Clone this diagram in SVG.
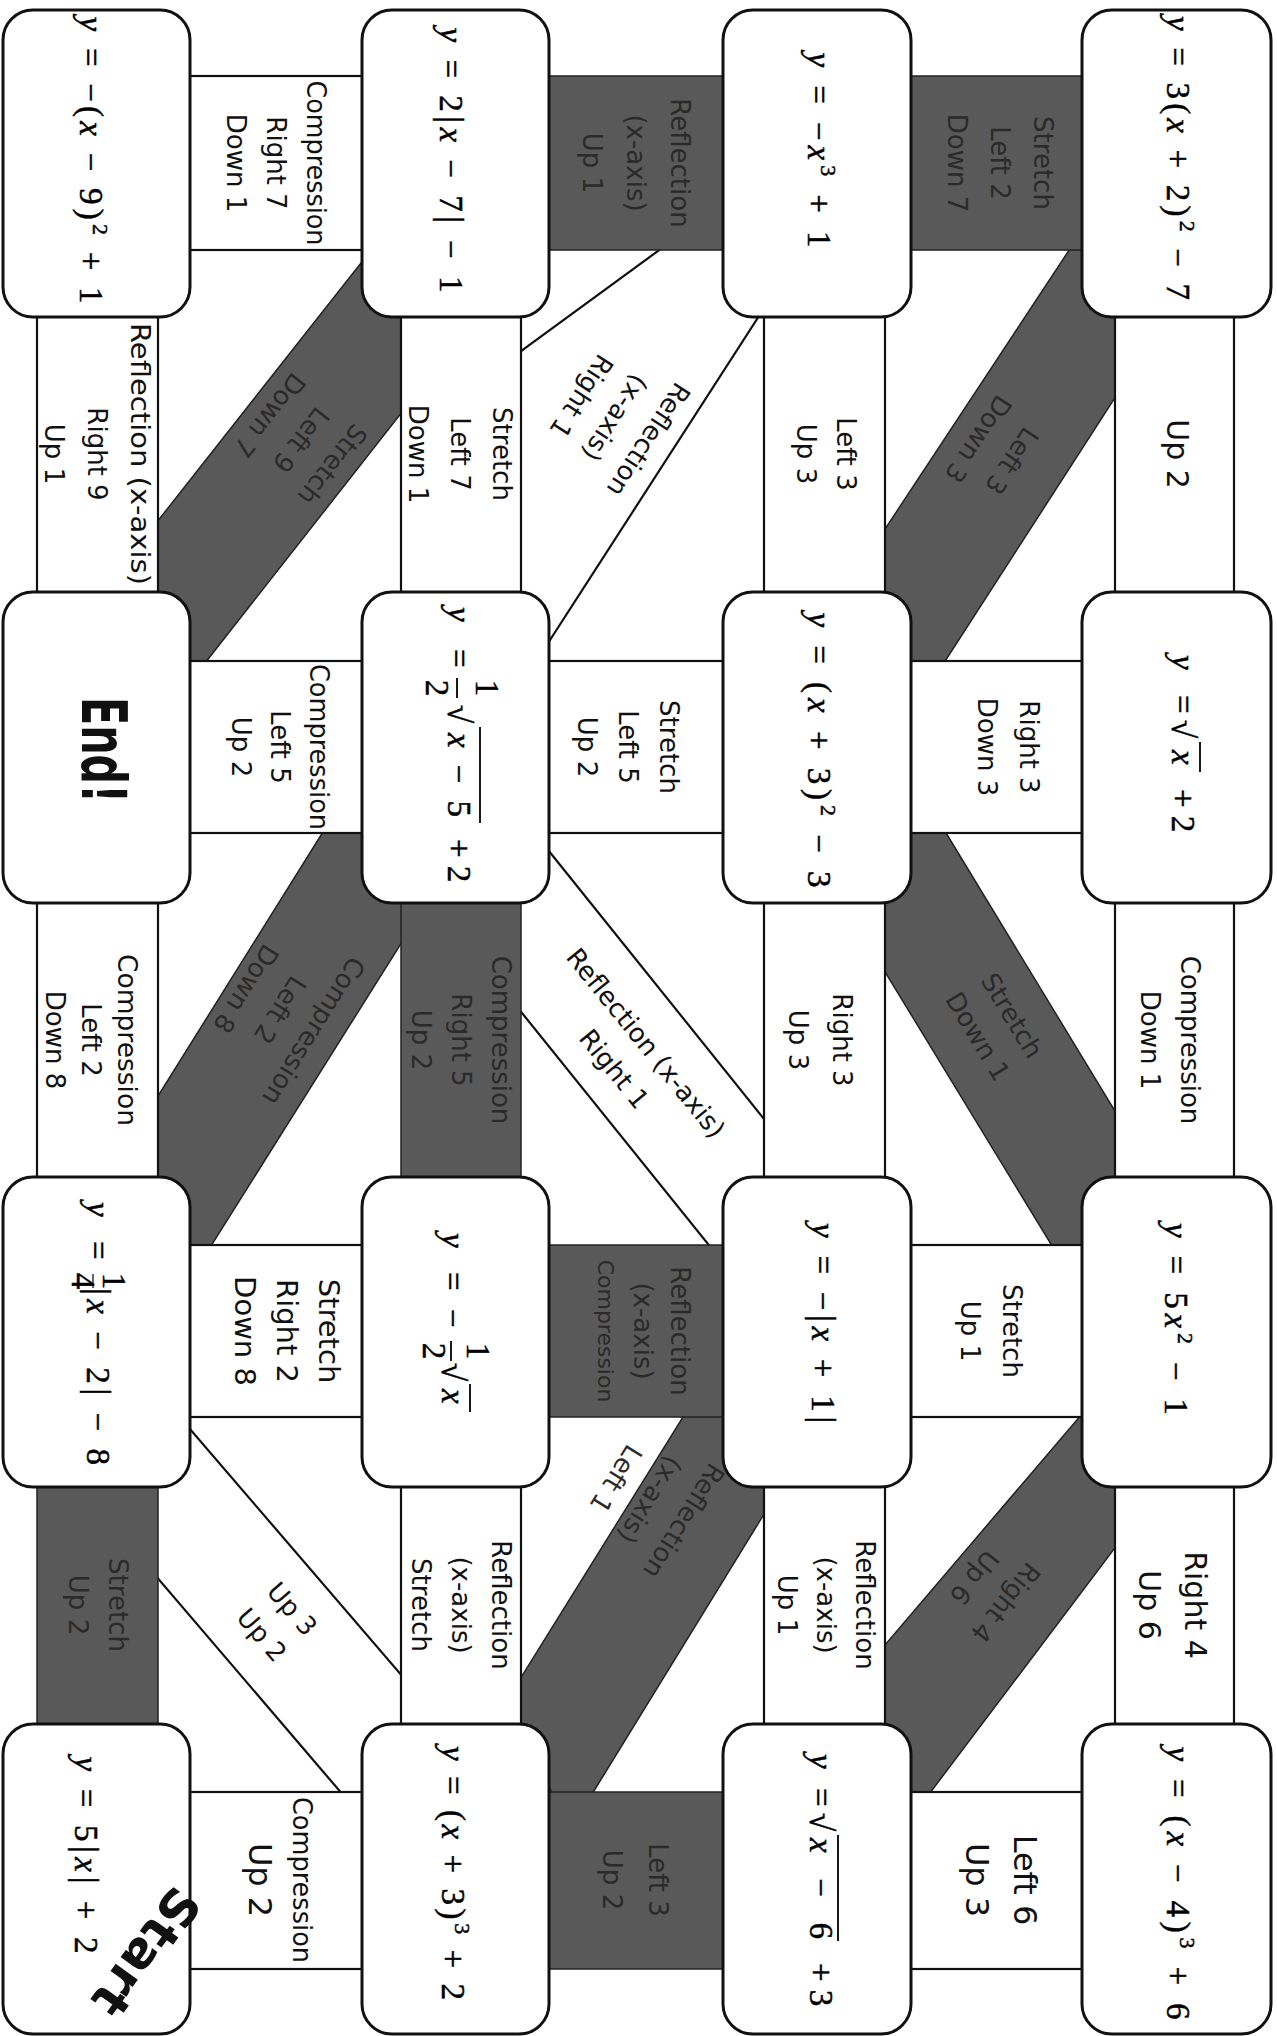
<svg xmlns="http://www.w3.org/2000/svg" width="1277" height="2036" viewBox="0 0 1277 2036">
<defs>
<style>
.box{fill:#fff;stroke:#111;stroke-width:3}
.lt{fill:#fff;stroke:#111;stroke-width:2.2}
.dk{fill:#595959;stroke:#222;stroke-width:1.5}
.lb{font-family:"DejaVu Sans",sans-serif;font-size:26px;fill:#111;text-anchor:middle}
.ld{font-family:"DejaVu Sans",sans-serif;font-size:26px;fill:#2a2a2a;text-anchor:middle}
.m{font-family:"Liberation Serif",serif;font-size:33px;fill:#000;stroke:#000;stroke-width:0.5}
.i{font-style:italic}
.ln{stroke:#000;stroke-width:1.8}
.big{font-family:"DejaVu Sans",sans-serif;font-weight:bold;fill:#111;text-anchor:middle}
</style>
</defs>
<rect width="1277" height="2036" fill="#fff"/>
<g id="connectors">
  <!-- diagonal bands -->
  <polygon class="dk" points="387,230 64,640 176,700 490,300"/>
  <polygon class="lt" points="673,240 480,381 480,700 530,671 790,268 740,200"/>
  <polygon class="dk" points="1089,220 825,620 880,700 920,700 1178,300"/>
  <polygon class="dk" points="343,800 93,1200 177,1300 441,880"/>
  <polygon class="lt" points="524,820 813,1180 737,1280 431,900"/>
  <polygon class="dk" points="926,800 1169,1200 1085,1300 829,880"/>
  <polygon class="lt" points="165,1400 440,1720 373,1830 108,1520"/>
  <polygon class="dk" points="706,1380 785,1480 570,1830 507,1700"/>
  <polygon class="dk" points="1111,1380 1151,1500 902,1830 838,1700"/>
  <!-- horizontal bands -->
  <rect class="lt" x="185" y="76" width="182" height="174"/>
  <rect class="dk" x="544" y="76" width="184" height="174"/>
  <rect class="dk" x="906" y="76" width="181" height="174"/>
  <rect class="lt" x="185" y="661" width="182" height="172"/>
  <rect class="lt" x="544" y="661" width="184" height="172"/>
  <rect class="lt" x="906" y="661" width="181" height="172"/>
  <rect class="lt" x="185" y="1245" width="182" height="172"/>
  <rect class="dk" x="544" y="1245" width="184" height="172"/>
  <rect class="lt" x="906" y="1245" width="181" height="172"/>
  <rect class="lt" x="185" y="1792" width="182" height="177"/>
  <rect class="dk" x="544" y="1792" width="184" height="177"/>
  <rect class="lt" x="906" y="1792" width="181" height="177"/>
  <!-- vertical bands -->
  <rect class="lt" x="37" y="312" width="121" height="285"/>
  <rect class="lt" x="401" y="312" width="120" height="285"/>
  <rect class="lt" x="764" y="312" width="121" height="285"/>
  <rect class="lt" x="1115" y="312" width="119" height="285"/>
  <rect class="lt" x="37" y="898" width="121" height="284"/>
  <rect class="dk" x="401" y="898" width="120" height="284"/>
  <rect class="lt" x="764" y="898" width="121" height="284"/>
  <rect class="lt" x="1115" y="898" width="119" height="284"/>
  <rect class="dk" x="37" y="1482" width="121" height="247"/>
  <rect class="lt" x="401" y="1482" width="120" height="247"/>
  <rect class="lt" x="764" y="1482" width="121" height="247"/>
  <rect class="lt" x="1115" y="1482" width="119" height="247"/>
  <!-- labels: horizontal bands -->
  <g transform="translate(276,163) rotate(90)"><text class="lb" y="-40" dy=".35em" textLength="165" lengthAdjust="spacingAndGlyphs">Compression</text><text class="lb" y="0" dy=".35em">Right 7</text><text class="lb" y="40" dy=".35em">Down 1</text></g>
  <g transform="translate(636,163) rotate(90)"><text class="ld" y="-44" dy=".35em">Reflection</text><text class="ld" y="0" dy=".35em">(x-axis)</text><text class="ld" y="44" dy=".35em">Up 1</text></g>
  <g transform="translate(1000,163) rotate(90)"><text class="ld" y="-43" dy=".35em">Stretch</text><text class="ld" y="0" dy=".35em">Left 2</text><text class="ld" y="43" dy=".35em">Down 7</text></g>
  <g transform="translate(280,747) rotate(90)"><text class="lb" y="-39" dy=".35em" textLength="166" lengthAdjust="spacingAndGlyphs">Compression</text><text class="lb" y="0" dy=".35em">Left 5</text><text class="lb" y="39" dy=".35em">Up 2</text></g>
  <g transform="translate(628,747) rotate(90)"><text class="lb" y="-41" dy=".35em">Stretch</text><text class="lb" y="0" dy=".35em">Left 5</text><text class="lb" y="41" dy=".35em">Up 2</text></g>
  <g transform="translate(1008,747) rotate(90)"><text class="lb" y="-21" dy=".35em">Right 3</text><text class="lb" y="21" dy=".35em">Down 3</text></g>
  <g transform="translate(287,1331) rotate(90)"><text class="lb" style="font-size:29px" y="-42" dy=".35em">Stretch</text><text class="lb" style="font-size:29px" y="0" dy=".35em">Right 2</text><text class="lb" style="font-size:29px" y="42" dy=".35em">Down 8</text></g>
  <g transform="translate(643,1331) rotate(90)"><text class="ld" y="-37" dy=".35em">Reflection</text><text class="ld" y="0" dy=".35em">(x-axis)</text><text class="ld" style="font-size:22px" y="37" dy=".35em">Compression</text></g>
  <g transform="translate(991,1331) rotate(90)"><text class="lb" y="-21" dy=".35em">Stretch</text><text class="lb" y="21" dy=".35em">Up 1</text></g>
  <g transform="translate(281,1880) rotate(90)"><text class="lb" y="-21" dy=".35em" textLength="166" lengthAdjust="spacingAndGlyphs">Compression</text><text class="lb" style="font-size:32px" y="21" dy=".35em">Up 2</text></g>
  <g transform="translate(635,1880) rotate(90)"><text class="ld" y="-23" dy=".35em">Left 3</text><text class="ld" y="23" dy=".35em">Up 2</text></g>
  <g transform="translate(1001,1880) rotate(90)"><text class="lb" style="font-size:32px" y="-24" dy=".35em">Left 6</text><text class="lb" style="font-size:32px" y="24" dy=".35em">Up 3</text></g>
  <!-- labels: vertical bands -->
  <g transform="translate(97,454) rotate(90)"><text class="lb" y="-43" dy=".35em" textLength="262" lengthAdjust="spacingAndGlyphs">Reflection (x-axis)</text><text class="lb" y="0" dy=".35em">Right 9</text><text class="lb" y="43" dy=".35em">Up 1</text></g>
  <g transform="translate(460,454) rotate(90)"><text class="lb" y="-42" dy=".35em">Stretch</text><text class="lb" y="0" dy=".35em">Left 7</text><text class="lb" y="42" dy=".35em">Down 1</text></g>
  <g transform="translate(826,454) rotate(90)"><text class="lb" y="-20" dy=".35em">Left 3</text><text class="lb" y="20" dy=".35em">Up 3</text></g>
  <g transform="translate(1177,454) rotate(90)"><text class="lb" style="font-size:30px" y="0" dy=".35em">Up 2</text></g>
  <g transform="translate(91,1040) rotate(90)"><text class="lb" y="-36" dy=".35em" textLength="172" lengthAdjust="spacingAndGlyphs">Compression</text><text class="lb" y="0" dy=".35em">Left 2</text><text class="lb" y="36" dy=".35em">Down 8</text></g>
  <g transform="translate(461,1040) rotate(90)"><text class="ld" y="-40" dy=".35em">Compression</text><text class="ld" y="0" dy=".35em">Right 5</text><text class="ld" y="40" dy=".35em">Up 2</text></g>
  <g transform="translate(820,1040) rotate(90)"><text class="lb" y="-22" dy=".35em">Right 3</text><text class="lb" y="22" dy=".35em">Up 3</text></g>
  <g transform="translate(1170,1040) rotate(90)"><text class="lb" y="-20" dy=".35em">Compression</text><text class="lb" y="20" dy=".35em">Down 1</text></g>
  <g transform="translate(98,1605) rotate(90)"><text class="ld" y="-20" dy=".35em">Stretch</text><text class="ld" y="20" dy=".35em">Up 2</text></g>
  <g transform="translate(461,1605) rotate(90)"><text class="lb" y="-40" dy=".35em">Reflection</text><text class="lb" y="0" dy=".35em">(x-axis)</text><text class="lb" y="40" dy=".35em">Stretch</text></g>
  <g transform="translate(826,1605) rotate(90)"><text class="lb" y="-39" dy=".35em">Reflection</text><text class="lb" y="0" dy=".35em">(x-axis)</text><text class="lb" y="39" dy=".35em">Up 1</text></g>
  <g transform="translate(1172,1605) rotate(90)"><text class="lb" style="font-size:30px" y="-23" dy=".35em">Right 4</text><text class="lb" style="font-size:30px" y="23" dy=".35em">Up 6</text></g>
  <!-- labels: diagonal bands -->
  <g transform="translate(301,440) rotate(128)"><text class="ld" y="-40" dy=".35em">Stretch</text><text class="ld" y="0" dy=".35em">Left 9</text><text class="ld" y="40" dy=".35em">Down 7</text></g>
  <g transform="translate(615,418) rotate(123)"><text class="lb" y="-40" dy=".35em">Reflection</text><text class="lb" y="0" dy=".35em">(x-axis)</text><text class="lb" y="40" dy=".35em">Right 1</text></g>
  <g transform="translate(995,450) rotate(123.4)"><text class="ld" y="-20" dy=".35em">Left 3</text><text class="ld" y="20" dy=".35em">Down 3</text></g>
  <g transform="translate(280,1010) rotate(122)"><text class="ld" y="-40" dy=".35em">Compression</text><text class="ld" y="0" dy=".35em">Left 2</text><text class="ld" y="40" dy=".35em">Down 8</text></g>
  <g transform="translate(630,1056) rotate(51)"><text class="lb" y="-20.5" dy=".35em">Reflection (x-axis)</text><text class="lb" y="20.5" dy=".35em">Right 1</text></g>
  <g transform="translate(995,1026) rotate(58.8)"><text class="ld" y="-20" dy=".35em">Stretch</text><text class="ld" y="20" dy=".35em">Down 1</text></g>
  <g transform="translate(277,1622) rotate(49.3)"><text class="lb" y="-20" dy=".35em">Up 3</text><text class="lb" y="20" dy=".35em">Up 2</text></g>
  <g transform="translate(650,1500) rotate(121.8)"><text class="ld" y="-40" dy=".35em">Reflection</text><text class="ld" y="0" dy=".35em">(x-axis)</text><text class="ld" y="40" dy=".35em">Left 1</text></g>
  <g transform="translate(990,1590) rotate(128.7)"><text class="ld" y="-20" dy=".35em">Right 4</text><text class="ld" y="20" dy=".35em">Up 6</text></g>
</g>
<!-- nodes -->
<g id="r1c1"><rect class="box" x="3" y="10" width="187" height="307" rx="30"/>
  <g transform="translate(80,160) rotate(90)"><text class="m" text-anchor="middle" textLength="287" lengthAdjust="spacing"><tspan class="i">y</tspan> = −(<tspan class="i">x</tspan> − 9)<tspan dy="-13" font-size="22">2</tspan><tspan dy="13"> + 1</tspan></text></g></g>
<g id="r1c2"><rect class="box" x="362" y="10" width="187" height="307" rx="30"/>
  <g transform="translate(440,160) rotate(90)"><text class="m" text-anchor="middle" textLength="265" lengthAdjust="spacing"><tspan class="i">y</tspan> = 2|<tspan class="i">x</tspan> − 7| − 1</text></g></g>
<g id="r1c3"><rect class="box" x="723" y="10" width="188" height="307" rx="30"/>
  <g transform="translate(808,150) rotate(90)"><text class="m" text-anchor="middle" textLength="195" lengthAdjust="spacing"><tspan class="i">y</tspan> = −<tspan class="i">x</tspan><tspan dy="-13" font-size="22">3</tspan><tspan dy="13"> + 1</tspan></text></g></g>
<g id="r1c4"><rect class="box" x="1082" y="10" width="189" height="307" rx="30"/>
  <g transform="translate(1167,158) rotate(90)"><text class="m" text-anchor="middle" textLength="284" lengthAdjust="spacing"><tspan class="i">y</tspan> = 3(<tspan class="i">x</tspan> + 2)<tspan dy="-13" font-size="22">2</tspan><tspan dy="13"> − 7</tspan></text></g></g>
<g id="r2c1"><rect class="box" x="3" y="592" width="187" height="311" rx="30"/>
  <text class="big" transform="translate(82,750) rotate(90)" font-size="62" textLength="106" lengthAdjust="spacingAndGlyphs">End!</text></g>
<g id="r2c2"><rect class="box" x="362" y="592" width="187" height="311" rx="30"/>
  <g transform="translate(448,745) rotate(90)">
    <text class="m i" x="-138">y</text><text class="m" x="-96">=</text>
    <text class="m" x="-57" y="-28" text-anchor="middle" font-size="30">1</text>
    <line class="ln" x1="-67" y1="-9" x2="-47" y2="-9"/>
    <text class="m" x="-57" y="22" text-anchor="middle" font-size="30">2</text>
    <text class="m" x="-40" font-size="36">√</text>
    <line class="ln" x1="-18" y1="-32" x2="78" y2="-32"/>
    <text class="m" x="-12" textLength="84" lengthAdjust="spacing"><tspan class="i">x</tspan> − 5</text>
    <text class="m" x="94">+ 2</text>
  </g></g>
<g id="r2c3"><rect class="box" x="723" y="592" width="188" height="311" rx="30"/>
  <g transform="translate(808,750) rotate(90)"><text class="m" text-anchor="middle" textLength="275" lengthAdjust="spacing"><tspan class="i">y</tspan> = (<tspan class="i">x</tspan> + 3)<tspan dy="-13" font-size="22">2</tspan><tspan dy="13"> − 3</tspan></text></g></g>
<g id="r2c4"><rect class="box" x="1082" y="592" width="189" height="311" rx="30"/>
  <g transform="translate(1172,745) rotate(90)">
    <text class="m i" x="-90">y</text><text class="m" x="-50">=</text>
    <text class="m" x="-25" font-size="36">√</text>
    <line class="ln" x1="-3" y1="-28" x2="27" y2="-28"/>
    <text class="m i" x="5">x</text>
    <text class="m" x="44">+ 2</text>
  </g></g>
<g id="r3c1"><rect class="box" x="3" y="1177" width="187" height="310" rx="30"/>
  <g transform="translate(87,1332) rotate(90)">
    <text class="m i" x="-130">y</text><text class="m" x="-91">=</text>
    <text class="m" x="-51" y="-16" text-anchor="middle" font-size="19">1</text>
    <line class="ln" x1="-58" y1="-6" x2="-44" y2="-6" style="stroke-width:1.2"/>
    <text class="m" x="-51" y="15" text-anchor="middle" font-size="19">4</text>
    <text class="m" x="-44" textLength="177" lengthAdjust="spacing">|<tspan class="i">x</tspan> − 2| − 8</text>
  </g></g>
<g id="r3c2"><rect class="box" x="362" y="1177" width="187" height="310" rx="30"/>
  <g transform="translate(442,1332) rotate(90)">
    <text class="m i" x="-99">y</text><text class="m" x="-60">=</text><text class="m" x="-23">−</text>
    <text class="m" x="19" y="-25" text-anchor="middle" font-size="25">1</text>
    <line class="ln" x1="9" y1="-9" x2="29" y2="-9"/>
    <text class="m" x="19" y="19" text-anchor="middle" font-size="25">2</text>
    <text class="m" x="31" font-size="36">√</text>
    <line class="ln" x1="52" y1="-28" x2="80" y2="-28"/>
    <text class="m i" x="57">x</text>
  </g></g>
<g id="r3c3"><rect class="box" x="723" y="1177" width="188" height="310" rx="30"/>
  <g transform="translate(812,1323) rotate(90)"><text class="m" text-anchor="middle" textLength="200" lengthAdjust="spacing"><tspan class="i">y</tspan> = −|<tspan class="i">x</tspan> + 1|</text></g></g>
<g id="r3c4"><rect class="box" x="1082" y="1177" width="189" height="310" rx="30"/>
  <g transform="translate(1165,1319) rotate(90)"><text class="m" text-anchor="middle" textLength="192" lengthAdjust="spacing"><tspan class="i">y</tspan> = 5<tspan class="i">x</tspan><tspan dy="-13" font-size="22">2</tspan><tspan dy="13"> − 1</tspan></text></g></g>
<g id="r4c1"><rect class="box" x="3" y="1724" width="187" height="310" rx="30"/>
  <g transform="translate(75,1855) rotate(90)"><text class="m" text-anchor="middle" textLength="197" lengthAdjust="spacing"><tspan class="i">y</tspan> = 5|<tspan class="i">x</tspan>| + 2</text></g>
  <text class="big" transform="translate(146,1952) rotate(126)" font-size="50" dy=".35em" textLength="145" lengthAdjust="spacingAndGlyphs">Start</text></g>
<g id="r4c2"><rect class="box" x="362" y="1724" width="187" height="310" rx="30"/>
  <g transform="translate(442,1873) rotate(90)"><text class="m" text-anchor="middle" textLength="254" lengthAdjust="spacing"><tspan class="i">y</tspan> = (<tspan class="i">x</tspan> + 3)<tspan dy="-13" font-size="22">3</tspan><tspan dy="13"> + 2</tspan></text></g></g>
<g id="r4c3"><rect class="box" x="723" y="1724" width="188" height="310" rx="30"/>
  <g transform="translate(810,1879) rotate(90)">
    <text class="m i" x="-125">y</text><text class="m" x="-91">=</text>
    <text class="m" x="-66" font-size="36">√</text>
    <line class="ln" x1="-44" y1="-28" x2="62" y2="-28"/>
    <text class="m" x="-41" textLength="101" lengthAdjust="spacing"><tspan class="i">x</tspan> − 6</text>
    <text class="m" x="84">+ 3</text>
  </g></g>
<g id="r4c4"><rect class="box" x="1082" y="1724" width="189" height="310" rx="30"/>
  <g transform="translate(1167,1883) rotate(90)"><text class="m" text-anchor="middle" textLength="273" lengthAdjust="spacing"><tspan class="i">y</tspan> = (<tspan class="i">x</tspan> − 4)<tspan dy="-13" font-size="22">3</tspan><tspan dy="13"> + 6</tspan></text></g></g>
</svg>
